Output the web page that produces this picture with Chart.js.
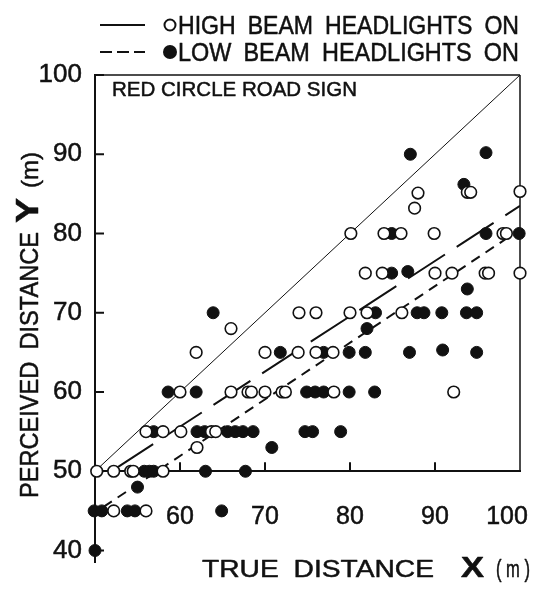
<!DOCTYPE html>
<html>
<head>
<meta charset="utf-8">
<title>Perceived distance</title>
<script src="https://cdn.jsdelivr.net/npm/chart.js@4.4.1/dist/chart.umd.min.js"></script>
<style>
  html, body { margin: 0; padding: 0; background: #fff; }
  #wrap { width: 543px; height: 591px; }
</style>
</head>
<body>
<div id="wrap"><canvas id="chart" width="543" height="591"></canvas></div>
<script>
// perceived distance (Y) against true distance (X), red circle road sign
// open circles: high beam, filled circles: low beam
const highX = [50.2, 52.2, 54.2, 54.5, 58.0, 52.2, 56.0, 62.0,
  56.0, 58.0, 60.1, 63.7, 64.2,
  60.0, 66.0, 68.0, 68.4, 70.0, 72.0, 72.4, 78.1, 92.2,
  61.9, 70.0, 73.9, 76.0, 78.0, 66.0,
  74.0, 76.0, 80.0, 82.0, 86.1,
  81.8, 83.8, 90.0, 92.0, 95.9, 96.3, 100.0,
  80.1, 84.0, 86.0, 89.9, 98.0, 98.4, 87.6,
  88.0, 93.8, 94.2, 100.0];
const highY = [50, 50, 50, 50, 50, 45, 45, 53,
  55, 55, 55, 55, 55,
  60, 60, 60, 60, 60, 60, 60, 60, 60,
  65, 65, 65, 65, 65, 68,
  70, 70, 70, 70, 70,
  75, 75, 75, 75, 75, 75, 75,
  80, 80, 80, 80, 80, 80, 83.2,
  85.1, 85.2, 85.2, 85.3];

const lowX = [50.0, 49.9, 50.8, 53.8, 54.7, 64.9, 55.0,
  55.8, 56.4, 56.9, 63.0, 67.7, 70.8,
  56.9, 62.0, 62.9, 65.6, 66.5, 67.4, 68.6, 74.7, 75.6, 78.9,
  58.6, 61.9, 74.9, 75.9, 76.9, 79.9, 82.9,
  71.8, 76.9, 79.9, 81.8, 87.0, 90.9, 94.9, 82.0,
  63.9, 83.0, 87.9, 88.7, 90.8, 93.7, 94.9, 93.8,
  84.9, 86.8, 84.9, 96.0, 99.9, 93.4, 87.1, 96.0];
const lowY = [40, 45, 45, 45, 45, 45, 48,
  50, 50, 50, 50, 50, 53,
  55, 55, 55, 55, 55, 55, 55, 55, 55, 55,
  60, 60, 60, 60, 60, 60, 60,
  65, 65, 65, 65, 65, 65.3, 65, 68,
  70, 70, 70, 70, 70, 70, 70, 73,
  75, 75.2, 80, 80, 80, 86.2, 90, 90.2];

// Y = X reference and the two fitted lines
const diagX = [50, 100];
const diagY = [50, 100];
const highFitX = [52.5, 100];
const highFitY = [50.4, 83.5];
const lowFitX = [51, 100];
const lowFitY = [45.5, 80.5];

const xTicks = [60, 70, 80, 90, 100];
const yTicks = [40, 50, 60, 70, 80, 90, 100];
const seriesNames = ['HIGH BEAM HEADLIGHTS ON', 'LOW BEAM HEADLIGHTS ON'];
const signName = 'RED CIRCLE ROAD SIGN';

const FONT = "'Liberation Sans', Arial, sans-serif";
const INK = '#111';
const PEN = 0.5; // extra stroke round the lettering

const pts = (xs, ys) => xs.map((x, i) => ({ x: x, y: ys[i] }));

// draw text squeezed/stretched to a given width, lightly stroked
function fitText(ctx, text, x, y, w, font, gap) {
  ctx.save();
  ctx.font = font;
  ctx.wordSpacing = (gap || 0) + 'px';
  const m = ctx.measureText(text).width;
  ctx.translate(x, y);
  ctx.scale(w / m, 1);
  ctx.textAlign = 'left';
  ctx.textBaseline = 'alphabetic';
  ctx.lineWidth = PEN;
  ctx.lineJoin = 'round';
  ctx.fillText(text, 0, 0);
  ctx.strokeText(text, 0, 0);
  ctx.restore();
  return x + w;
}

function line(ctx, x1, y1, x2, y2, w, dash) {
  ctx.save();
  ctx.lineWidth = w;
  ctx.setLineDash(dash || []);
  ctx.beginPath();
  ctx.moveTo(x1, y1);
  ctx.lineTo(x2, y2);
  ctx.stroke();
  ctx.restore();
}

const decor = {
  id: 'decor',
  beforeDatasetsDraw(chart) {
    const { ctx } = chart;
    const sx = chart.scales.x, sy = chart.scales.y;
    ctx.save();
    ctx.strokeStyle = INK;
    // top and right edges of the frame
    line(ctx, sx.getPixelForValue(50), sy.getPixelForValue(100),
      sx.getPixelForValue(100), sy.getPixelForValue(100), 1.5);
    line(ctx, sx.getPixelForValue(100), sy.getPixelForValue(50),
      sx.getPixelForValue(100), sy.getPixelForValue(100), 1.5);
    // inward tick marks
    const x0 = sx.getPixelForValue(50);
    yTicks.forEach(v => {
      const p = sy.getPixelForValue(v);
      line(ctx, x0, p, x0 + 9, p, 2);
    });
    const y0 = sy.getPixelForValue(50);
    xTicks.slice(0, -1).forEach(v => {
      const p = sx.getPixelForValue(v);
      line(ctx, p, y0, p, y0 - 9, 2);
    });
    ctx.restore();
  },
  afterDraw(chart) {
    const { ctx } = chart;
    const sx = chart.scales.x;
    ctx.save();
    ctx.fillStyle = INK;
    ctx.strokeStyle = INK;

    // x tick labels under the Y = 50 line
    ctx.font = '25px ' + FONT;
    ctx.textAlign = 'center';
    ctx.textBaseline = 'alphabetic';
    ctx.lineWidth = PEN;
    xTicks.forEach((v, i) => {
      let p = sx.getPixelForValue(v);
      if (i === xTicks.length - 1) p -= 13;
      ctx.fillText(String(v), p, 524);
      ctx.strokeText(String(v), p, 524);
    });

    // legend
    line(ctx, 100, 25, 145, 25, 2);
    line(ctx, 100, 52, 145, 52, 2, [12, 5]);
    ctx.lineWidth = 2;
    ctx.beginPath();
    ctx.arc(170, 25, 5.5, 0, Math.PI * 2);
    ctx.stroke();
    ctx.beginPath();
    ctx.arc(170, 52, 7, 0, Math.PI * 2);
    ctx.fill();
    fitText(ctx, seriesNames[0], 178, 34, 341, '25px ' + FONT, 6);
    fitText(ctx, seriesNames[1], 178, 61, 341, '25px ' + FONT, 6);

    // sign name inside the frame
    fitText(ctx, signName, 112, 96, 245, '21px ' + FONT, 0);

    // x axis title
    fitText(ctx, 'TRUE DISTANCE', 202, 577, 232, '24px ' + FONT, 6);
    fitText(ctx, 'X', 461, 577, 23, 'bold 30px ' + FONT);
    fitText(ctx, '( m )', 496, 577, 34, '23px ' + FONT, 0);

    // y axis title, reading upwards
    ctx.translate(38, 498);
    ctx.rotate(-Math.PI / 2);
    fitText(ctx, 'PERCEIVED DISTANCE', 0, 0, 266, '25px ' + FONT, 6);
    fitText(ctx, 'Y', 275, 0, 25, 'bold 31px ' + FONT);
    fitText(ctx, '(m)', 310, 0, 36, '24px ' + FONT, 0);
    ctx.restore();
  }
};

new Chart(document.getElementById('chart').getContext('2d'), {
  type: 'scatter',
  data: {
    datasets: [
      {
        label: seriesNames[0],
        data: pts(highX, highY),
        pointRadius: 5.8,
        pointBorderWidth: 1.6,
        pointBorderColor: INK,
        pointBackgroundColor: '#fff',
        clip: false,
        order: 0
      },
      {
        label: seriesNames[1],
        data: pts(lowX, lowY),
        pointRadius: 6,
        pointBorderWidth: 1,
        pointBorderColor: INK,
        pointBackgroundColor: INK,
        clip: false,
        order: 0
      },
      {
        label: 'Y = X',
        data: pts(diagX, diagY),
        showLine: true,
        borderColor: INK,
        borderWidth: 1,
        pointRadius: 0,
        order: 1
      },
      {
        label: 'high beam fit',
        data: pts(highFitX, highFitY),
        showLine: true,
        borderColor: INK,
        borderWidth: 2,
        borderDash: [44, 14],
        pointRadius: 0,
        order: 1
      },
      {
        label: 'low beam fit',
        data: pts(lowFitX, lowFitY),
        showLine: true,
        borderColor: INK,
        borderWidth: 2,
        borderDash: [10, 7],
        pointRadius: 0,
        order: 1
      }
    ]
  },
  options: {
    responsive: false,
    animation: false,
    devicePixelRatio: 1,
    layout: { padding: { top: 75, right: 23, bottom: 0, left: 0 } },
    plugins: {
      legend: { display: false },
      tooltip: { enabled: false }
    },
    scales: {
      x: {
        type: 'linear',
        min: 50,
        max: 100,
        position: { y: 50 },
        afterBuildTicks: s => { s.ticks = xTicks.map(v => ({ value: v })); },
        grid: { display: false, drawTicks: false },
        border: { display: true, color: INK, width: 2 },
        ticks: { display: false }
      },
      y: {
        type: 'linear',
        min: 38.5,
        max: 100,
        afterBuildTicks: s => { s.ticks = yTicks.map(v => ({ value: v })); },
        afterFit: s => { s.width = 95; },
        grid: { display: false, drawTicks: false },
        border: { display: true, color: INK, width: 2 },
        ticks: {
          color: INK,
          padding: 13,
          textStrokeColor: INK,
          textStrokeWidth: PEN,
          font: { family: FONT, size: 26 }
        }
      }
    }
  },
  plugins: [decor]
});
</script>
</body>
</html>
